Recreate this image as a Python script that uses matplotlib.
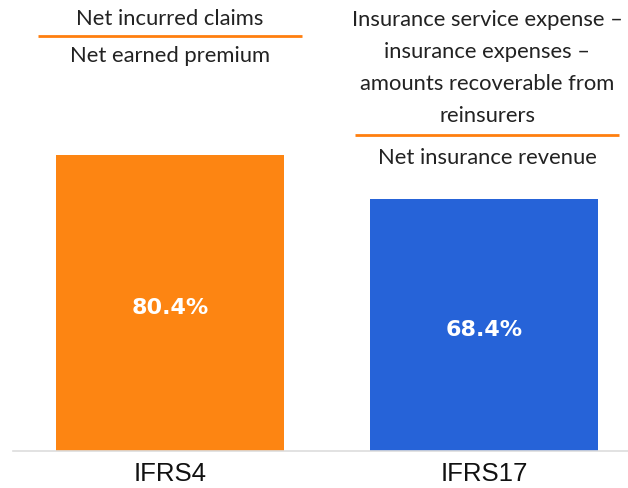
import matplotlib.pyplot as plt
from matplotlib.transforms import blended_transform_factory

# Data
categories = ["IFRS4", "IFRS17"]
values = [80.4, 68.4]
bar_colors = ["#FD8512", "#2663D8"]
numerators = ["Net incurred claims",
              "Insurance service expense \u2013\ninsurance expenses \u2013\namounts recoverable from\nreinsurers"]
denominators = ["Net earned premium", "Net insurance revenue"]

W, H = 628, 489
fig = plt.figure(figsize=(W / 100, H / 100), dpi=100)
# axes from baseline (y=452px) to top of figure, x 13px..628px
ax = fig.add_axes([13 / W, (H - 452) / H, 1 - 13 / W, 452 / H])

x = list(range(len(categories)))
bars = ax.bar(x, values, width=0.728, color=bar_colors, zorder=2)
ax.set_xlim(-0.5, 1.459)
ax.set_ylim(0, 452 / 3.68)

for b, v in zip(bars, values):
    ax.annotate(f"{v}%", (b.get_x() + b.get_width() / 2, v / 2), xytext=(0, -4),
                textcoords="offset pixels", ha="center", va="center",
                color="white", fontsize=16, fontweight="bold", family="DejaVu Sans")

for s in ["top", "right", "left"]:
    ax.spines[s].set_visible(False)
ax.spines["bottom"].set_color("#DDDDDD")
ax.spines["bottom"].set_linewidth(1.2)
ax.set_yticks([])
ax.set_xticks(x)
ax.set_xticklabels(categories, fontsize=18.5, family="Liberation Sans", color="#111111")
ax.tick_params(axis="x", length=0, pad=7)

# fraction annotations (y given in figure pixels from top)
trans = blended_transform_factory(ax.transData, fig.transFigure)
def fy(px):
    return 1 - px / H

num_y = [19, 20]
line_y = [37, 136]
den_y = [56, 158]
centers = [0.0, 1.01]
for i in range(2):
    for k, line in enumerate(numerators[i].split("\n")):
        ax.text(centers[i], fy(num_y[i] + 32 * k), line, transform=trans, ha="center",
                va="center", fontsize=15.8, family="Lato", color="#222222", clip_on=False)
    ax.plot([centers[i] - 0.42, centers[i] + 0.42], [fy(line_y[i])] * 2, transform=trans,
            color="#FF7F0E", lw=2, clip_on=False, solid_capstyle="butt")
    ax.text(centers[i], fy(den_y[i]), denominators[i], transform=trans, ha="center",
            va="center", fontsize=15.8, family="Lato", color="#222222", clip_on=False)

fig.savefig("out.png", dpi=100)
